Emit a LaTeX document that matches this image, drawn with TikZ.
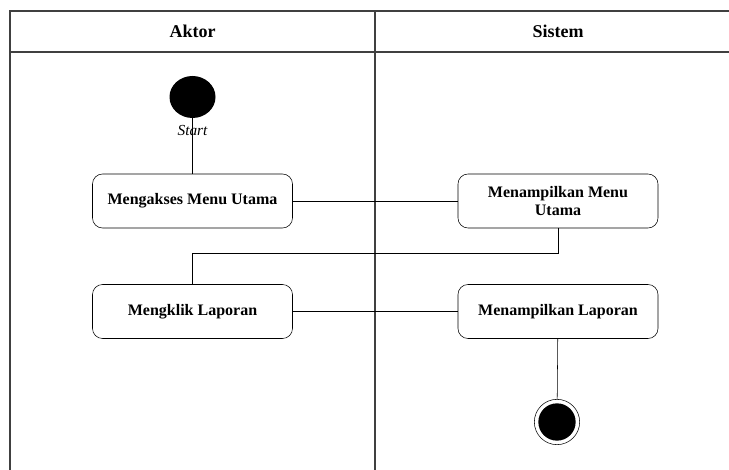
\documentclass[tikz,border=0pt]{standalone}
\usepackage{fontspec}
\setmainfont{Liberation Serif}
\usetikzlibrary{positioning,shapes.geometric}
\tikzset{font=\fontsize{12}{14}\selectfont}

\begin{document}
\begin{tikzpicture}[x=0.75pt, y=-0.75pt]
	\useasboundingbox (0,0) rectangle (729,470);
	\begin{scope}
		\tikzstyle{every node}=[align=center, inner sep=1pt]
		\tikzstyle{lane}=[draw=black!75, line width=1.1pt]
		\tikzstyle{activity}=[draw, rounded corners=7.5pt, minimum width=150pt, minimum height=40.5pt, font=\fontsize{12}{14}\selectfont\bfseries]
		\tikzstyle{lanehead}=[font=\fontsize{13.5}{16}\selectfont\bfseries]

		% swimlanes
		\draw[lane] (10,470) -- (10,11) -- (740,11);
		\draw[lane] (10,52) -- (740,52);
		\draw[lane] (375,11) -- (375,470);
		\node[lanehead] (aktor)  at (192.5,31.5) {Aktor};
		\node[lanehead] (sistem) at (558,31.5)   {Sistem};

		% nodes
		\node[fill, ellipse, minimum width=34.5pt, minimum height=31.5pt, inner sep=0pt] (start) at (192.5,97) {};
		\node[font=\fontsize{11.5}{13}\selectfont\itshape] (startlbl) at (192.5,131) {Start};
		\node[activity] (akses)    at (192.5,201) {Mengakses Menu Utama};
		\node[activity] (tampil)   at (558,201)   {Menampilkan Menu\\Utama};
		\node[activity] (klik)     at (192.5,311.5) {Mengklik Laporan};
		\node[activity] (laporan)  at (558,311.5) {Menampilkan Laporan};
		\node[draw, circle, minimum size=34pt, inner sep=0pt,
			path picture={\fill (path picture bounding box.center) circle (14pt);}] (end) at (557,422) {};
		\coordinate (bend) at (558,253);

		\draw (start) -- (akses);
		\draw (akses) -- (tampil);
		\draw (tampil) -- (bend) -| (klik);
		\draw (klik) -- (laporan);
		\draw (laporan) -- (end);
	\end{scope}
\end{tikzpicture}
\end{document}
